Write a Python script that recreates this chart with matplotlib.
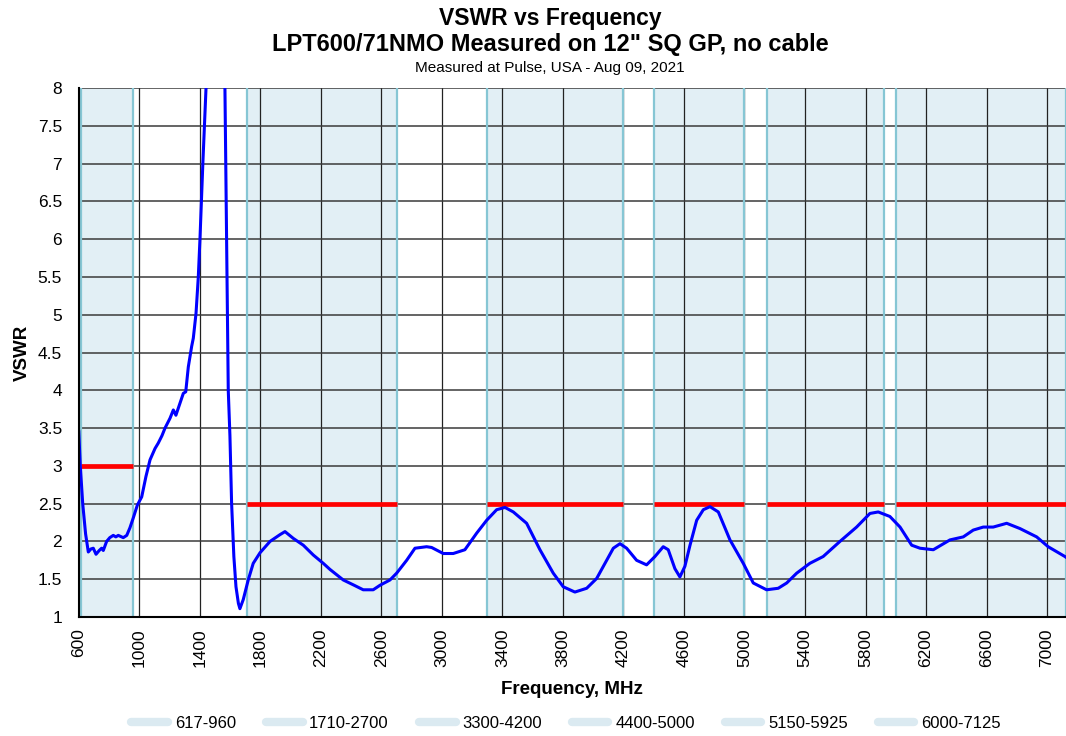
import matplotlib
matplotlib.use("Agg")
import matplotlib.pyplot as plt
from matplotlib.lines import Line2D

plt.rcParams['font.family'] = ['Liberation Sans', 'DejaVu Sans']

# ---- data ----
freq = [600, 610, 626, 645, 663, 680, 696, 714, 735, 751, 762, 784, 805, 828, 845,
        861, 894, 917, 938, 960, 987, 1016, 1044, 1071, 1104, 1125, 1150, 1170,
        1203, 1225, 1242, 1269, 1291, 1307, 1324, 1346, 1357, 1375, 1390, 1401,
        1420, 1441, 1470, 1500, 1530, 1566, 1577, 1588, 1599, 1610, 1625, 1639,
        1655, 1665, 1687, 1720, 1753,
        1798, 1864, 1930, 1963, 2018, 2084, 2150, 2216, 2260, 2304, 2348, 2420,
        2480, 2546, 2591, 2657, 2701, 2767, 2822, 2899, 2932, 3009, 3075, 3152,
        3230, 3296, 3362, 3417, 3472, 3560, 3648, 3736, 3802, 3879, 3957, 4023,
        4089, 4133, 4177, 4221, 4287, 4353, 4408, 4463, 4496, 4540, 4573, 4606,
        4640, 4684, 4728, 4772, 4827, 4904, 4992, 5058, 5146, 5223, 5279, 5345,
        5432, 5520, 5631, 5741, 5829, 5884, 5961, 6028, 6105, 6160, 6248, 6358,
        6446, 6512, 6578, 6644, 6733, 6821, 6931, 7007, 7118, 7125]
vswr = [3.45, 3.0, 2.5, 2.1, 1.86, 1.9, 1.91, 1.83, 1.88, 1.91, 1.88, 2.0, 2.05, 2.08, 2.06,
        2.08, 2.05, 2.08, 2.18, 2.31, 2.48, 2.59, 2.86, 3.08, 3.23, 3.30, 3.40, 3.50,
        3.63, 3.74, 3.67, 3.83, 3.96, 3.98, 4.31, 4.58, 4.69, 5.02, 5.5, 6.0,
        7.0, 8.0, 10.0, 12.0, 11.0, 8.0, 6.0, 4.0, 3.4, 2.51, 1.8, 1.40,
        1.18, 1.11, 1.23, 1.49, 1.71,
        1.85, 2.0, 2.09, 2.13, 2.04, 1.95, 1.82, 1.71, 1.63, 1.56, 1.49, 1.42,
        1.36, 1.36, 1.42, 1.49, 1.58, 1.75, 1.91, 1.93, 1.92, 1.84, 1.84, 1.89,
        2.11, 2.28, 2.42, 2.45, 2.39, 2.24, 1.89, 1.58, 1.40, 1.33, 1.38, 1.51,
        1.75, 1.91, 1.97, 1.91, 1.75, 1.69, 1.80, 1.93, 1.89, 1.64, 1.53, 1.67,
        1.95, 2.28, 2.42, 2.46, 2.39, 2.02, 1.71, 1.45, 1.36, 1.38, 1.45, 1.58,
        1.71, 1.80, 2.0, 2.19, 2.37, 2.39, 2.33, 2.19, 1.95, 1.91, 1.89, 2.02,
        2.06, 2.15, 2.19, 2.19, 2.24, 2.17, 2.06, 1.93, 1.80, 1.79]

band_labels = ["617-960", "1710-2700", "3300-4200", "4400-5000", "5150-5925", "6000-7125"]
band_start = [617, 1710, 3300, 4400, 5150, 6000]
band_end = [960, 2700, 4200, 5000, 5925, 7125]
band_limit = [3.0, 2.5, 2.5, 2.5, 2.5, 2.5]

x_ticks = list(range(600, 7001, 400))
y_ticks = [1, 1.5, 2, 2.5, 3, 3.5, 4, 4.5, 5, 5.5, 6, 6.5, 7, 7.5, 8]
y_tick_labels = ["1", "1.5", "2", "2.5", "3", "3.5", "4", "4.5", "5", "5.5", "6", "6.5", "7", "7.5", "8"]

# ---- figure ----
fig = plt.figure(figsize=(10.66, 7.36), dpi=100)
ax = fig.add_axes([0.0739, 0.1617, 0.9261, 0.7187])

fill_c = '#e2eff5'
edge_c = '#86c6d4'
for s, e in zip(band_start, band_end):
    ax.axvspan(s, e, color=fill_c, lw=0, zorder=0)
for s, e in zip(band_start, band_end):
    ax.axvline(s, color=edge_c, lw=1.6, zorder=2)
    ax.axvline(e, color=edge_c, lw=1.6, zorder=2)

for xt in x_ticks:
    ax.axvline(xt, color='#222222', lw=0.9, zorder=1)
for yt in y_ticks:
    ax.axhline(yt, color='#3a3a3a', lw=1.1, zorder=1)

for s, e, lim in zip(band_start, band_end, band_limit):
    ax.plot([s, e], [lim, lim], color='#ff0000', lw=3.4, solid_capstyle='butt', zorder=3)

ax.plot(freq, vswr, color='#0000ff', lw=2.2, zorder=4)

ax.set_xlim(600, 7125)
ax.set_ylim(1, 8)
ax.set_xticks(x_ticks)
ax.set_xticklabels([str(v) for v in x_ticks], rotation=90, fontsize=12.5)
ax.set_yticks(y_ticks)
ax.set_yticklabels(y_tick_labels, fontsize=12.5)
ax.tick_params(axis='y', length=0, pad=12)
ax.tick_params(axis='x', length=0, pad=8)

for sp in ['top', 'right']:
    ax.spines[sp].set_visible(False)
for sp in ['left', 'bottom']:
    ax.spines[sp].set_color('black')
    ax.spines[sp].set_linewidth(1.5)
    ax.spines[sp].set_zorder(5)

ax.set_xlabel("Frequency, MHz", fontsize=13.5, fontweight='bold', labelpad=10)
ax.set_ylabel("VSWR", fontsize=13.5, fontweight='bold', labelpad=5)

fig.text(0.516, 0.9755, "VSWR vs Frequency", ha='center', va='center', fontsize=16.5, fontweight='bold')
fig.text(0.516, 0.9389, 'LPT600/71NMO Measured on 12" SQ GP, no cable', ha='center', va='center', fontsize=17, fontweight='bold')
fig.text(0.516, 0.9076, "Measured at Pulse, USA - Aug 09, 2021", ha='center', va='center', fontsize=11)

handles = [Line2D([0], [0], color='#dbeaf1', lw=6, solid_capstyle='round') for _ in band_labels]
fig.legend(handles, band_labels, loc='center', bbox_to_anchor=(0.531, 0.017), ncol=6, frameon=False,
           fontsize=12, handlelength=2.2, handletextpad=0.4, columnspacing=1.8)

fig.savefig("out.png", dpi=100)
